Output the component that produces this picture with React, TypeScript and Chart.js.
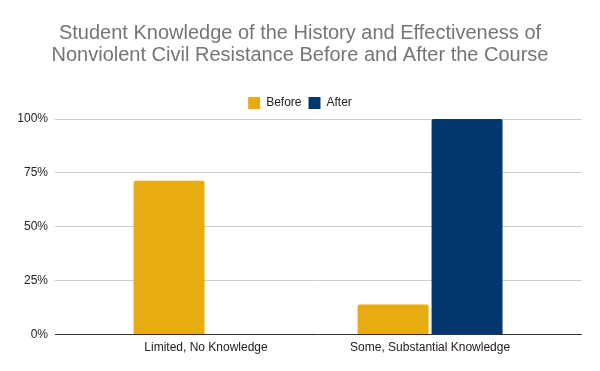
import React, { useEffect, useRef } from "react";
import { Chart, registerables } from "chart.js";

Chart.register(...registerables);

const categories = ["Limited, No Knowledge", "Some, Substantial Knowledge"];
const beforeValues = [71.4, 14];
const afterValues = [0, 100];
const yTicks = [0, 25, 50, 75, 100];
const titleLines = [
  "Student Knowledge of the History and Effectiveness of",
  "Nonviolent Civil Resistance Before and After the Course",
];

export default function App() {
  const ref = useRef<HTMLCanvasElement | null>(null);
  useEffect(() => {
    document.body.style.margin = "0";
    const ctx = ref.current!;
    const toPts = (vals: number[]) => vals.map((v, i) => ({ x: i, y: v }));
    const chart = new Chart(ctx, {
      type: "bar",
      data: {
        datasets: [
          {
            label: "Before",
            data: toPts(beforeValues),
            backgroundColor: "#E6AC12",
            borderRadius: 2,
            borderSkipped: "bottom",
            categoryPercentage: 0.66,
            barPercentage: 0.96,
          },
          {
            label: "After",
            data: toPts(afterValues),
            backgroundColor: "#02386F",
            borderRadius: 2,
            borderSkipped: "bottom",
            categoryPercentage: 0.66,
            barPercentage: 0.96,
          },
        ],
      },
      options: {
        animation: false,
        responsive: false,
        maintainAspectRatio: false,
        layout: { padding: { left: 18, right: 18, top: 0, bottom: 10 } },
        plugins: {
          title: {
            display: true,
            text: titleLines,
            color: "#757575",
            font: { family: "Arial, 'Liberation Sans'", size: 20, weight: "normal", lineHeight: 1.1 },
            padding: { top: 22, bottom: 24 },
          },
          legend: {
            display: true,
            position: "top",
            labels: {
              boxWidth: 12,
              boxHeight: 12,
              padding: 7,
              color: "#222",
              font: { family: "Arial, 'Liberation Sans'", size: 12, lineHeight: 1 },
            },
          },
          tooltip: { enabled: false },
        },
        scales: {
          x: {
            type: "linear",
            min: -0.674,
            max: 1.678,
            offset: false,
            grid: { display: false, drawTicks: false },
            border: { display: false },
            afterBuildTicks: (scale: any) => {
              scale.ticks = categories.map((_, i) => ({ value: i }));
            },
            ticks: {
              autoSkip: false,
              maxRotation: 0,
              padding: 6,
              color: "#222",
              font: { family: "Arial, 'Liberation Sans'", size: 12 },
              callback: (v: any) => categories[v as number] ?? "",
            },
          },
          y: {
            min: 0,
            max: 100,
            afterBuildTicks: (scale: any) => {
              scale.ticks = yTicks.map((v) => ({ value: v }));
            },
            afterFit: (scale: any) => {
              scale.width = 37;
            },
            grid: {
              color: (c: any) => (c.tick && c.tick.value === 0 ? "#333333" : "#CCCCCC"),
              lineWidth: 1,
              drawTicks: false,
            },
            border: { display: false },
            ticks: {
              padding: 7,
              color: "#222",
              font: { family: "Arial, 'Liberation Sans'", size: 12 },
              callback: (v: any) => v + "%",
            },
          },
        },
      },
    } as any);
    return () => chart.destroy();
  }, []);
  return (
    <div style={{ position: "fixed", left: 0, top: 0, width: 600, height: 371, background: "#fff" }}>
      <canvas ref={ref} width={600} height={371} style={{ display: "block" }} />
    </div>
  );
}
